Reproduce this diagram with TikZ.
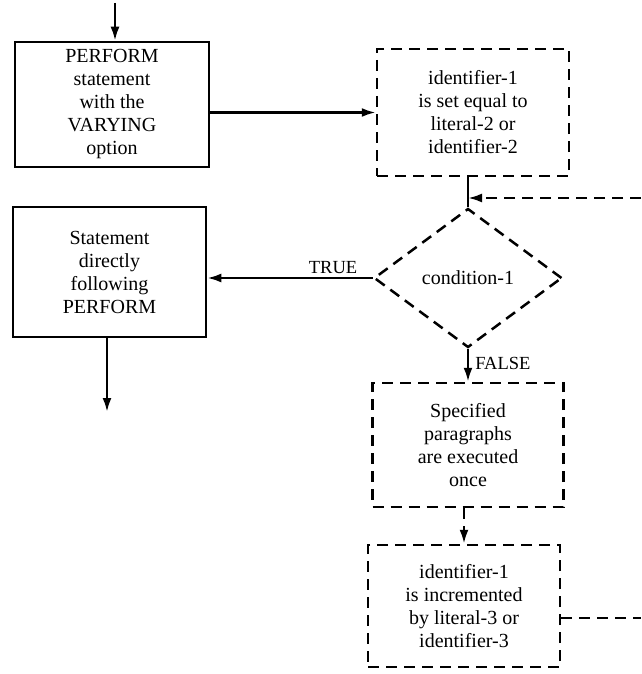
\documentclass[tikz,border=0pt]{standalone}
\usepackage{fontspec}
\setmainfont{Liberation Serif}
\usetikzlibrary{arrows.meta,shapes.geometric}
\begin{document}
\begin{tikzpicture}[x=1pt,y=-1pt,
  line width=2.5pt,
  every node/.style={font=\fontsize{20}{23}\selectfont},
  solidbox/.style={draw,rectangle,inner sep=0pt,align=center},
  dashbox/.style={solidbox,dash pattern=on 11pt off 7pt},
  decision/.style={draw,diamond,inner sep=0pt,dash pattern=on 11pt off 7pt},
  flow/.style={-{Latex[length=14pt,width=9pt]}},
  dflow/.style={flow,dash pattern=on 11pt off 7pt},
  lbl/.style={font=\fontsize{18.5}{20}\selectfont,inner sep=2pt}]
\useasboundingbox (0,0) rectangle (641,674);

% process boxes
\node[solidbox,minimum width=194pt,minimum height=125pt] (b1) at (112,104.5)
  {PERFORM\\statement\\with the\\VARYING\\option};
\node[dashbox,minimum width=192pt,minimum height=127pt] (b2) at (473,112.5)
  {identifier-1\\is set equal to\\literal-2 or\\identifier-2};
\node[solidbox,minimum width=193pt,minimum height=130pt] (b3) at (109.5,272)
  {Statement\\directly\\following\\PERFORM};
\node[decision,minimum width=188pt,minimum height=139pt] (dia) at (468,278)
  {condition-1};
\node[dashbox,minimum width=191pt,minimum height=124pt] (b4) at (468,445)
  {Specified\\paragraphs\\are executed\\once};
\node[dashbox,minimum width=192pt,minimum height=122pt] (b5) at (464,606)
  {identifier-1\\is incremented\\by literal-3 or\\identifier-3};

% loose ends
\coordinate (in)  at (115,3);
\coordinate (out) at (107,412);
\coordinate (fb)  at (641,198);
\coordinate (r5)  at (641,618);

% connectors
\draw[flow] (in) -- (in |- b1.north);
\draw[flow] (b1.east |- b2.west) -- (b2.west);
\draw (dia.north |- b2.south) -- (dia.north);
\draw[dflow] (fb) -- (fb -| dia.north);
\draw[flow] (dia.west) -- (dia.west -| b3.east)
  node[lbl,above,pos=0.24,yshift=1pt] {TRUE};
\draw[flow] (out |- b3.south) -- (out);
\draw[flow] (dia.south) -- (dia.south |- b4.north)
  node[lbl,right,midway,xshift=4pt,yshift=2pt] {FALSE};
\draw[dflow] (b5.north |- b4.south) -- (b5.north);
\draw[dash pattern=on 11pt off 7pt] (b5.east |- r5) -- (r5);
\end{tikzpicture}
\end{document}
